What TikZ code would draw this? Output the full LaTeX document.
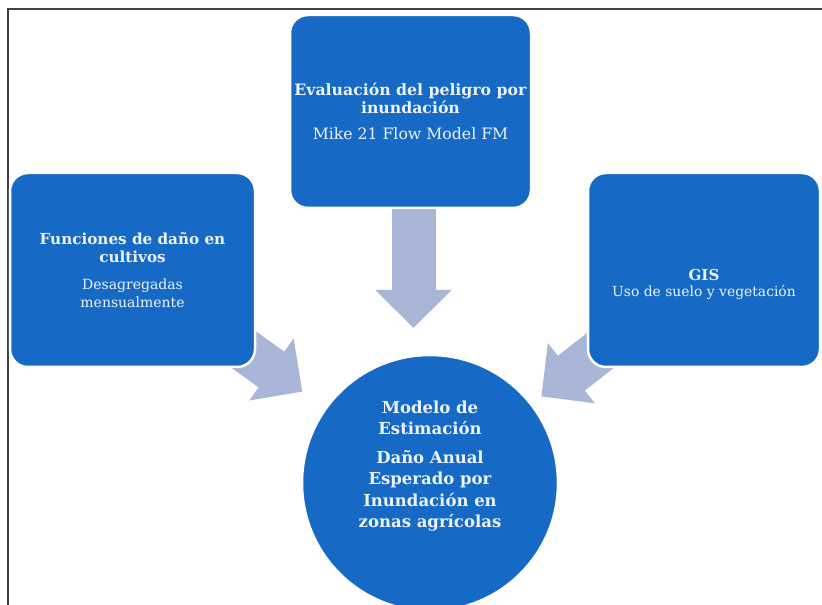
\documentclass[tikz,border=0pt]{standalone}
\usepackage{fontspec}
\setmainfont{DejaVu Serif}
\usetikzlibrary{arrows.meta,backgrounds}
\definecolor{boxblue}{RGB}{22,106,198}
\definecolor{arrowblue}{RGB}{170,182,216}
\definecolor{textwhite}{RGB}{236,243,251}
\definecolor{framegray}{RGB}{55,70,75}
\begin{document}
\begin{tikzpicture}[x=1pt,y=1pt,
	box/.style={rectangle, rounded corners=18pt, fill=boxblue, draw=white, line width=2.5pt,
		text=textwhite, align=center},
	bigarrow/.style={draw=arrowblue, line width=44pt, -{Triangle[length=38pt,width=74pt]}}]
	\useasboundingbox (0,0) rectangle (822,605);
	\draw [color=framegray, line width=1.8pt] (8,0) -- (8,596) -- (822,596);
	% the three inputs
	\node [box, minimum width=241pt, minimum height=193pt, font=\fontsize{15.7}{17.5}\selectfont] (hazard) at (410.5,493.5)
		{\textbf{Evaluación del peligro por}\\\textbf{inundación}\\[9pt]Mike 21 Flow Model FM};
	\node [box, minimum width=245pt, minimum height=194pt, font=\fontsize{14}{18}\selectfont] (damage) at (132.5,335)
		{{\fontsize{15.2}{18}\selectfont\textbf{Funciones de daño en}}\\{\fontsize{15.2}{18}\selectfont\textbf{cultivos}}\\[9pt]Desagregadas\\mensualmente};
	\node [box, minimum width=232pt, minimum height=194pt, font=\fontsize{13.9}{16}\selectfont] (gis) at (704,335)
		{\rule{0pt}{41pt}{\fontsize{15}{16}\selectfont\textbf{GIS}}\\Uso de suelo y vegetación};
	% the model
	\node [circle, fill=boxblue, draw=white, line width=2.5pt, minimum size=256pt,
		text=textwhite, align=center, font=\bfseries\fontsize{16.5}{21.5}\selectfont] (model) at (430,122)
		{Modelo de\\Estimación\\[7pt]Daño Anual\\Esperado por\\Inundación en\\zonas agrícolas\rule[-38pt]{0pt}{38pt}};
	% block arrows under the nodes
	\begin{scope}[on background layer]
		\draw [bigarrow, shorten <=90pt, shorten >=155pt] ([xshift=3pt]hazard.center) -- ([xshift=3pt]hazard.center |- model.center);
		\draw [bigarrow, shorten <=93pt, shorten >=157pt] (damage.center) -- (model.center);
		\draw [bigarrow, shorten <=93pt, shorten >=141pt] (gis.center) -- (model.center);
	\end{scope}
\end{tikzpicture}
\end{document}
